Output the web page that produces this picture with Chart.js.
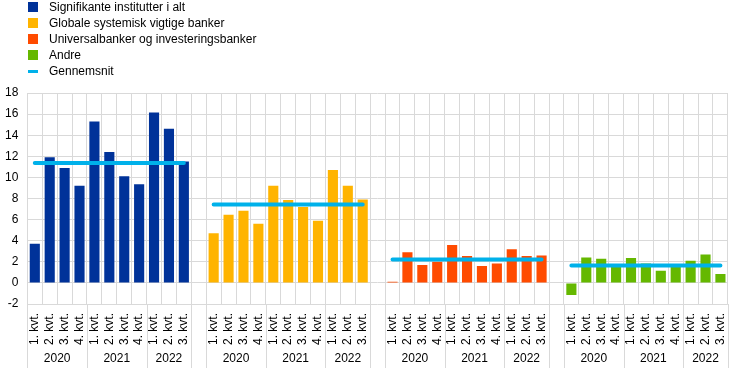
<!DOCTYPE html>
<html>
<head>
<meta charset="utf-8">
<script src="https://cdn.jsdelivr.net/npm/chart.js@4/dist/chart.umd.min.js"></script>
<style>
  html, body { margin: 0; padding: 0; background: #fff; }
  #wrap { position: relative; width: 744px; height: 370px; }
  #legend { position: absolute; left: 0; top: 0; font-family: "Liberation Sans", Arial, sans-serif; font-size: 12px; color: #000; }
  .row { position: absolute; left: 28px; height: 14px; line-height: 14px; white-space: nowrap; }
  .mk { position: absolute; left: 0; }
  .tx { position: absolute; left: 21px; top: 0; }
</style>
</head>
<body>
<div id="wrap">
  <canvas id="c" width="744" height="370"></canvas>
  <div id="legend"></div>
</div>
<script>
// ---- data ----
const quarterLabels = ['1. kvt.', '2. kvt.', '3. kvt.', '4. kvt.', '1. kvt.', '2. kvt.', '3. kvt.', '4. kvt.', '1. kvt.', '2. kvt.', '3. kvt.'];
const yearLabels = ['2020', '2020', '2020', '2020', '2021', '2021', '2021', '2021', '2022', '2022', '2022'];
const seriesNames = ['Signifikante institutter i alt', 'Globale systemisk vigtige banker', 'Universalbanker og investeringsbanker', 'Andre'];
const averageName = 'Gennemsnit';
const signifikante = [3.7, 11.9, 10.9, 9.2, 15.3, 12.4, 10.1, 9.35, 16.15, 14.6, 11.5];
const globale = [4.7, 6.45, 6.85, 5.6, 9.2, 7.85, 7.2, 5.9, 10.7, 9.2, 7.9];
const universal = [0.1, 2.9, 1.7, 2.0, 3.6, 2.55, 1.6, 1.85, 3.2, 2.55, 2.6];
const andre = [-1.15, 2.4, 2.3, 1.6, 2.35, 1.85, 1.15, 1.6, 2.1, 2.7, 0.85];
const gennemsnit = [11.37, 7.42, 2.22, 1.65];
const colors = ['#003299', '#ffb400', '#ff4b00', '#65b800'];
const lineColor = '#00b1ea';

// ---- build full category axis (4 groups separated by an empty slot) ----
const groups = [signifikante, globale, universal, andre];
const n = quarterLabels.length;
const labels = [];
const groupStarts = [];
groups.forEach((g, gi) => {
  if (gi > 0) { labels.push(''); }
  groupStarts.push(labels.length);
  quarterLabels.forEach(q => labels.push(q));
});
const total = labels.length;
function padded(gi, vals) {
  const arr = new Array(total).fill(null);
  vals.forEach((v, i) => { arr[groupStarts[gi] + i] = v; });
  return arr;
}
const avgData = new Array(total).fill(null);
groups.forEach((g, gi) => { for (let i = 0; i < n; i++) avgData[groupStarts[gi] + i] = gennemsnit[gi]; });

// year label positions (center of each year's quarters) and year boundaries
const yearTicks = [];
const boundaries = [];
groupStarts.forEach(s => {
  let cur = null, first = 0;
  for (let i = 0; i <= n; i++) {
    const y = i < n ? yearLabels[i] : null;
    if (y !== cur) {
      if (cur !== null) yearTicks.push({ value: s + (first + i - 1) / 2, label: cur });
      boundaries.push(s + i - 0.5);
      cur = y; first = i;
    }
  }
});

const datasets = groups.map((g, gi) => ({
  type: 'bar',
  label: seriesNames[gi],
  data: padded(gi, g),
  backgroundColor: colors[gi],
  borderWidth: 0,
  barPercentage: 0.68,
  categoryPercentage: 1,
  grouped: false,
  order: 1
}));
datasets.push({
  type: 'line',
  label: averageName,
  data: avgData,
  borderColor: lineColor,
  borderWidth: 4,
  borderCapStyle: 'round',
  pointRadius: 0,
  spanGaps: false,
  tension: 0,
  order: 0
});

// ---- legend (HTML text) ----
const legendEl = document.getElementById('legend');
const legendItems = seriesNames.map((s, i) => ({ text: s, color: colors[i], line: false }))
  .concat([{ text: averageName, color: lineColor, line: true }]);
legendItems.forEach((it, i) => {
  const row = document.createElement('div');
  row.className = 'row';
  row.style.top = (i * 16) + 'px';
  const mk = document.createElement('div');
  mk.className = 'mk';
  mk.style.background = it.color;
  if (it.line) { mk.style.width = '10px'; mk.style.height = '3px'; mk.style.top = '6px'; }
  else { mk.style.width = '10px'; mk.style.height = '10px'; mk.style.top = '2px'; }
  const tx = document.createElement('div');
  tx.className = 'tx';
  tx.textContent = it.text;
  row.appendChild(mk); row.appendChild(tx);
  legendEl.appendChild(row);
});

// ---- year separator lines below the axis ----
const separators = {
  id: 'separators',
  afterDraw(chart) {
    const x = chart.scales.x;
    const ctx = chart.ctx;
    const half = (x.getPixelForValue(1) - x.getPixelForValue(0)) / 2;
    ctx.save();
    ctx.strokeStyle = '#d9d9d9';
    ctx.lineWidth = 1;
    boundaries.forEach(b => {
      const px = Math.round(x.getPixelForValue(b + 0.5) - half) + 0.5;
      ctx.beginPath();
      ctx.moveTo(px, chart.chartArea.bottom);
      ctx.lineTo(px, chart.height - 2);
      ctx.stroke();
    });
    ctx.restore();
  }
};

Chart.defaults.font.family = '"Liberation Sans", Arial, sans-serif';
Chart.defaults.font.size = 12;
Chart.defaults.color = '#000';

new Chart(document.getElementById('c'), {
  data: { labels: labels, datasets: datasets },
  options: {
    responsive: false,
    animation: false,
    layout: { padding: { top: 93, right: 16, left: -4, bottom: 0 } },
    plugins: { legend: { display: false }, tooltip: { enabled: false } },
    scales: {
      x: {
        type: 'category',
        offset: true,
        grid: { offset: true, color: '#d9d9d9', drawTicks: false },
        border: { display: false },
        ticks: { autoSkip: false, maxRotation: 90, minRotation: 90, padding: 9, font: { size: 12 } },
        afterFit(scale) { scale.height = 46; }
      },
      x2: {
        type: 'linear',
        position: 'bottom',
        min: -0.5,
        max: total - 0.5,
        grid: { display: false, drawTicks: false },
        border: { display: false },
        afterBuildTicks(scale) { scale.ticks = yearTicks.map(t => ({ value: t.value })); },
        ticks: {
          autoSkip: false, maxRotation: 0, minRotation: 0, padding: 1,
          callback(v) { const t = yearTicks.find(t => t.value === v); return t ? t.label : ''; }
        },
        afterFit(scale) { scale.height = 20; }
      },
      y: {
        min: -2,
        max: 18,
        grid: { color: '#d9d9d9', drawTicks: false },
        border: { display: false },
        ticks: { stepSize: 2, padding: 9 }
      }
    }
  },
  plugins: [separators]
});
</script>
</body>
</html>
